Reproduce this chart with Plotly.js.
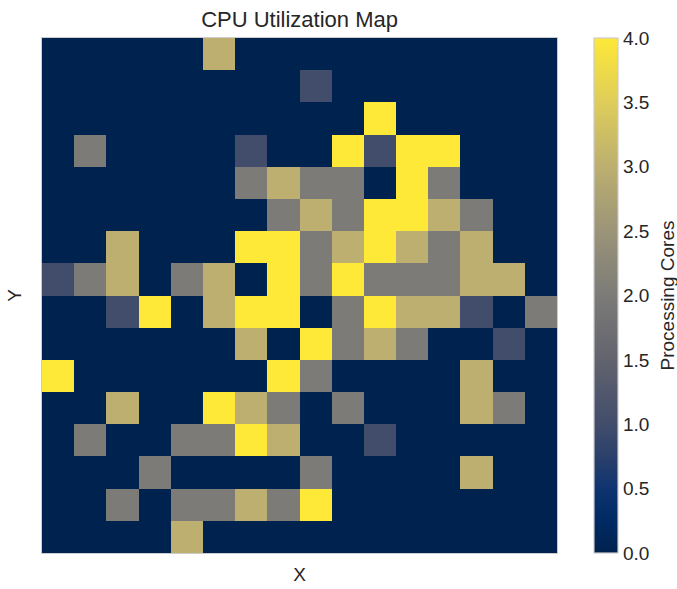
<!DOCTYPE html>
<html>
<head>
<meta charset="utf-8">
<script src="https://cdn.plot.ly/plotly-3.0.1.min.js"></script>
<style>html,body{margin:0;padding:0;background:#fff;}#chart{width:677px;height:589px;}</style>
</head>
<body>
<div id="chart"></div>
<script>
// Processing cores per cell (row 0 = top)
const row00 = [0,0,0,0,0,3,0,0,0,0,0,0,0,0,0,0];
const row01 = [0,0,0,0,0,0,0,0,1,0,0,0,0,0,0,0];
const row02 = [0,0,0,0,0,0,0,0,0,0,4,0,0,0,0,0];
const row03 = [0,2,0,0,0,0,1,0,0,4,1,4,4,0,0,0];
const row04 = [0,0,0,0,0,0,2,3,2,2,0,4,2,0,0,0];
const row05 = [0,0,0,0,0,0,0,2,3,2,4,4,3,2,0,0];
const row06 = [0,0,3,0,0,0,4,4,2,3,4,3,2,3,0,0];
const row07 = [1,2,3,0,2,3,0,4,2,4,2,2,2,3,3,0];
const row08 = [0,0,1,4,0,3,4,4,0,2,4,3,3,1,0,2];
const row09 = [0,0,0,0,0,0,3,0,4,2,3,2,0,0,1,0];
const row10 = [4,0,0,0,0,0,0,4,2,0,0,0,0,3,0,0];
const row11 = [0,0,3,0,0,4,3,2,0,2,0,0,0,3,2,0];
const row12 = [0,2,0,0,2,2,4,3,0,0,1,0,0,0,0,0];
const row13 = [0,0,0,2,0,0,0,0,2,0,0,0,0,3,0,0];
const row14 = [0,0,2,0,2,2,3,2,4,0,0,0,0,0,0,0];
const row15 = [0,0,0,0,3,0,0,0,0,0,0,0,0,0,0,0];
const zRows = [row00,row01,row02,row03,row04,row05,row06,row07,row08,row09,row10,row11,row12,row13,row14,row15];
const colorTicks = [0,0.5,1,1.5,2,2.5,3,3.5,4];
const colorTickText = ["0.0","0.5","1.0","1.5","2.0","2.5","3.0","3.5","4.0"];
const colorbarLabel = 'Processing Cores';

const cividis = [
  [0.0,'rgb(0,34,78)'],
  [0.0625,'rgb(0,42,99)'],
  [0.125,'rgb(14,52,112)'],
  [0.1875,'rgb(43,64,108)'],
  [0.25,'rgb(65,77,107)'],
  [0.375,'rgb(98,99,110)'],
  [0.5,'rgb(124,123,120)'],
  [0.625,'rgb(155,148,120)'],
  [0.75,'rgb(188,175,111)'],
  [0.875,'rgb(222,205,90)'],
  [1.0,'rgb(254,232,56)']
];

const font = 'Arial, "Liberation Sans", sans-serif';
const txt = '#262626';

Plotly.newPlot('chart', [{
  type: 'heatmap',
  z: zRows,
  zmin: 0, zmax: 4,
  colorscale: cividis,
  showscale: true,
  colorbar: {
    x: 1.0718, xanchor: 'left', xref: 'paper',
    y: 0.5, yanchor: 'middle',
    len: 1, lenmode: 'fraction',
    thickness: 24, thicknessmode: 'pixels',
    outlinecolor: '#cccccc', outlinewidth: 1.2,
    ticks: '', tickvals: colorTicks, ticktext: colorTickText,
    tickfont: {family: font, size: 19, color: txt},
    ticklabelpad: 7,
    xpad: 0, ypad: 0
  },
  hoverinfo: 'z'
}], {
  width: 677, height: 589,
  margin: {l: 42, r: 120, t: 38, b: 36},
  paper_bgcolor: '#ffffff', plot_bgcolor: '#ffffff',
  title: {text: 'CPU Utilization Map', x: 0.4425, xanchor: 'center', y: 0.967, yanchor: 'middle', font: {family: font, size: 22, color: txt}},
  annotations: [{
    text: colorbarLabel, textangle: -90, showarrow: false,
    xref: 'paper', yref: 'paper', x: 1.2136, y: 0.5, xanchor: 'center', yanchor: 'middle',
    font: {family: font, size: 19, color: txt}
  }],
  xaxis: {showticklabels: false, ticks: '', showgrid: false, zeroline: false,
          showline: true, mirror: true, linecolor: '#cccccc', linewidth: 1.2,
          title: {text: 'X', standoff: 14, font: {family: font, size: 19, color: txt}}, automargin: false},
  yaxis: {showticklabels: false, ticks: '', showgrid: false, zeroline: false, autorange: 'reversed',
          showline: true, mirror: true, linecolor: '#cccccc', linewidth: 1.2,
          title: {text: 'Y', standoff: 14, font: {family: font, size: 19, color: txt}}, automargin: false}
}, {displayModeBar: false, staticPlot: true});
</script>
</body>
</html>
